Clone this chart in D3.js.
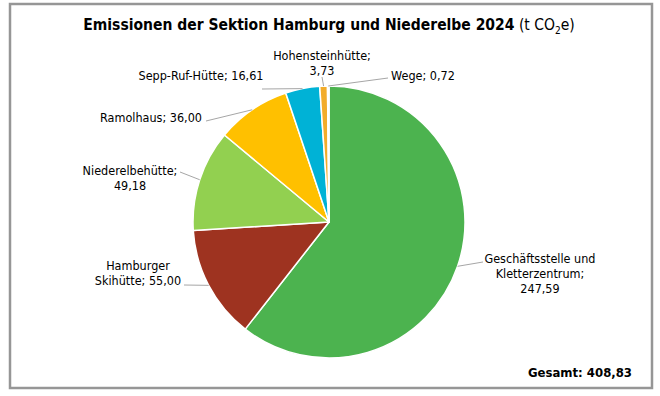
<!DOCTYPE html>
<html>
<head>
<meta charset="utf-8">
<script src="https://cdn.jsdelivr.net/npm/d3@7"></script>
<style>
  body { margin: 0; background: #fff; }
  svg text { font-family: "DejaVu Sans Condensed", "DejaVu Sans", Verdana, sans-serif; fill: #000; }
</style>
</head>
<body>
<div id="chart"></div>
<script>
// Emissionen der Sektion Hamburg und Niederelbe 2024 (t CO2e)
var names = ["Geschäftsstelle und Kletterzentrum", "Hamburger Skihütte", "Niederelbehütte",
  "Ramolhaus", "Sepp-Ruf-Hütte", "Hohensteinhütte", "Wege"];
var values = [247.59, 55.00, 49.18, 36.00, 16.61, 3.73, 0.72];
var colors = ["#4cb34f", "#9e3320", "#92d050", "#ffc000", "#00b2d6", "#f2ac2a", "#c8c8c8"];

// label lines (how excel wrapped them)
var labelLines = [
  ["Geschäftsstelle und", "Kletterzentrum;", "247,59"],
  ["Hamburger", "Skihütte; 55,00"],
  ["Niederelbehütte;", "49,18"],
  ["Ramolhaus; 36,00"],
  ["Sepp-Ruf-Hütte; 16,61"],
  ["Hohensteinhütte;", "3,73"],
  ["Wege; 0,72"]
];

// label layout: text centre x, first baseline y, start of leader line
var labelPos = [
  {x: 540, y: 263, lx: 483, ly: 262},
  {x: 138, y: 270, lx: 184, ly: 285},
  {x: 130, y: 175, lx: 180, ly: 172},
  {x: 151, y: 122, lx: 206, ly: 121},
  {x: 201, y: 80, lx: 262, ly: 89},
  {x: 322, y: 60, lx: 322, ly: 77},
  {x: 423, y: 80, lx: 388, ly: 78}
];

var width = 660, height = 396;
var cx = 329, cy = 222, r = 136;
var lineH = 15;

var svg = d3.select("#chart").append("svg")
  .attr("width", width)
  .attr("height", height);

// frame
svg.append("rect")
  .attr("x", 10).attr("y", 4)
  .attr("width", 642).attr("height", 384)
  .attr("fill", "#fff")
  .attr("stroke", "#969696")
  .attr("stroke-width", 2.5);

// title
var title = svg.append("text")
  .attr("x", 329).attr("y", 30)
  .attr("text-anchor", "middle")
  .style("font-size", "15.5px");
title.append("tspan").style("font-weight", "bold")
  .text("Emissionen der Sektion Hamburg und Niederelbe 2024");
title.append("tspan").text(" (t CO");
title.append("tspan").attr("dy", 4).style("font-size", "10px").text("2");
title.append("tspan").attr("dy", -4).text("e)");

var pie = d3.pie().sort(null).value(d => d);
var arcs = pie(values);
var arc = d3.arc().innerRadius(0).outerRadius(r);
var edge = d3.arc().innerRadius(r).outerRadius(r);

var g = svg.append("g").attr("transform", "translate(" + cx + "," + cy + ")");

g.selectAll("path.slice")
  .data(arcs)
  .enter().append("path")
  .attr("class", "slice")
  .attr("d", arc)
  .attr("fill", (d, i) => colors[i])
  .attr("stroke", "#fff")
  .attr("stroke-width", 1.5)
  .attr("stroke-linejoin", "round");

// leader lines from label to slice edge (mid angle)
svg.selectAll("line.leader")
  .data(arcs)
  .enter().append("line")
  .attr("class", "leader")
  .attr("x1", (d, i) => labelPos[i].lx)
  .attr("y1", (d, i) => labelPos[i].ly)
  .attr("x2", d => cx + edge.centroid(d)[0])
  .attr("y2", d => cy + edge.centroid(d)[1])
  .attr("stroke", "#a6a6a6")
  .attr("stroke-width", 1);

var labels = svg.selectAll("text.lab")
  .data(labelLines)
  .enter().append("text")
  .attr("class", "lab")
  .attr("text-anchor", "middle")
  .style("font-size", "12.5px");

labels.selectAll("tspan")
  .data((d, i) => d.map(t => ({t: t, i: i})))
  .enter().append("tspan")
  .attr("x", d => labelPos[d.i].x)
  .attr("y", (d, j) => labelPos[d.i].y + j * lineH)
  .text(d => d.t);

// total
var fmt = v => d3.format(".2f")(v).replace(".", ",");
svg.append("text")
  .attr("x", 632).attr("y", 377)
  .attr("text-anchor", "end")
  .style("font-size", "13px")
  .style("font-weight", "bold")
  .text("Gesamt: " + fmt(d3.sum(values)));
</script>
</body>
</html>
